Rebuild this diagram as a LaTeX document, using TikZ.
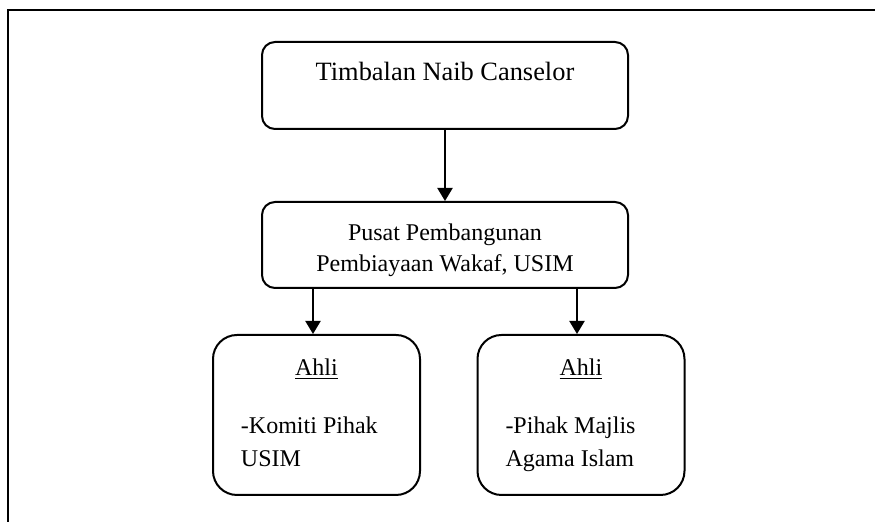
\documentclass[tikz,border=0pt]{standalone}
\usepackage{fontspec}
\setmainfont{Liberation Serif}
\usetikzlibrary{arrows.meta}

\begin{document}
\begin{tikzpicture}[x=0.5pt, y=-0.5pt, line width=1pt,
    kotak/.style={draw, rounded corners=6.5pt, minimum width=183pt, inner sep=0pt},
    ahli/.style={draw, rounded corners=12pt, minimum height=80pt, inner xsep=14pt, inner ysep=0pt,
        text width=75.5pt, align=flush left, font=\fontsize{12}{16.5}\selectfont},
    panah/.style={-{Triangle[length=6.5pt,width=7.5pt]}}]
    \useasboundingbox (0,0) rectangle (875,522);
    %bingkai
    \draw (8,522) -- (8,10) -- (875,10);
    %carta
    \node[kotak, anchor=north, text height=19.5pt, text depth=24pt, font=\fontsize{13.2}{16}\selectfont] (tnc) at (445,41) {Timbalan Naib Canselor};
    \node[kotak, minimum height=43pt, align=center, font=\fontsize{12}{15.5}\selectfont] (pusat) at (445,245) {\rule{0pt}{14pt}Pusat Pembangunan\\Pembiayaan Wakaf, USIM};
    \node[ahli] (kiri) at (316.5,415) {\makebox[\hsize]{\underline{Ahli}}\\[12.5pt]-Komiti Pihak\\USIM\rule[-2.6pt]{0pt}{2.6pt}};
    \node[ahli] (kanan) at (581,415) {\makebox[\hsize]{\underline{Ahli}}\\[12.5pt]-Pihak Majlis\\Agama Islam\rule[-2.6pt]{0pt}{2.6pt}};
    \draw[panah] (tnc) -- (pusat);
    \draw[panah] ([xshift=-1.75pt]pusat.south -| kiri.north) -- ([xshift=-1.75pt]kiri.north);
    \draw[panah] ([xshift=-2pt]pusat.south -| kanan.north) -- ([xshift=-2pt]kanan.north);
\end{tikzpicture}
\end{document}
